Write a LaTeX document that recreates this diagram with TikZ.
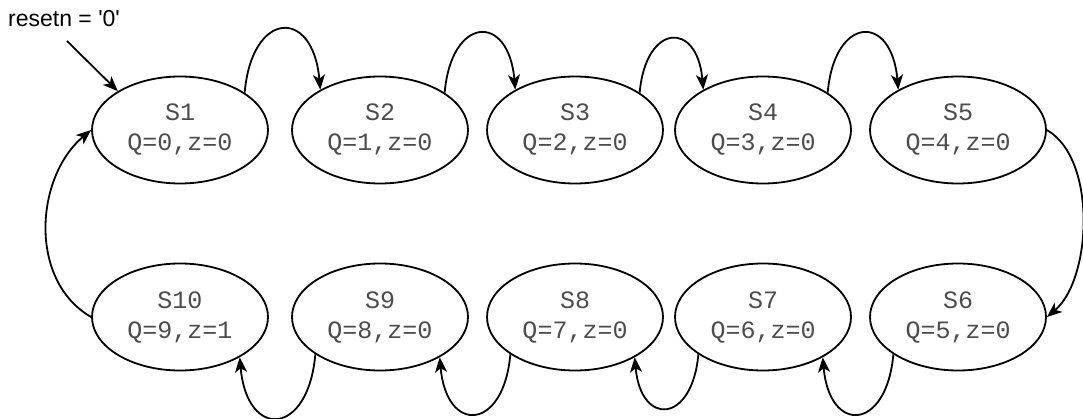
\documentclass[tikz,border=0pt]{standalone}
\usepackage{fontspec}
\newfontfamily\statefont{Liberation Mono}
\newfontfamily\labelfont{Liberation Sans}
\usetikzlibrary{arrows.meta,shapes.geometric}
\begin{document}
\begin{tikzpicture}[x=1pt,y=1pt,
	fsm/.style={draw,ellipse,line width=1.8pt,minimum width=176pt,minimum height=107pt,
		inner sep=0pt,align=center,text=black!70,font=\statefont\fontsize{25}{30}\selectfont},
	arr/.style={line width=1.8pt,-{Stealth[length=15pt,width=12pt,inset=4pt]}}]
	\useasboundingbox (0,0) rectangle (1083,418);
	% states, top row left to right, bottom row right to left
	\foreach \n/\x/\y/\q/\z in {1/180/288/0/0,2/380/288/1/0,3/575/288/2/0,4/763/288/3/0,5/958/288/4/0,
		6/958/101/5/0,7/763/101/6/0,8/575/101/7/0,9/380/101/8/0,10/180/101/9/1}{
		\node[fsm] (s\n) at (\x,\y) {S\n\\Q=\q,z=\z};
	}
	% reset
	\node[anchor=base west,inner sep=0pt,font=\labelfont\fontsize{23}{27}\selectfont] (rst) at (8,391) {resetn = '0'};
	\coordinate (rstfrom) at (67,377);
	\draw[arr] (rstfrom) -- (s1.148);
	% transitions
	\foreach \a/\b in {1/2,2/3,3/4,4/5}{
		\draw[arr] (s\a.30) to[out=85,in=95,looseness=2.8] (s\b.146);
	}
	\foreach \a/\b in {6/7,7/8,8/9,9/10}{
		\draw[arr] (s\a.210) to[out=-95,in=-85,looseness=2.8] (s\b.326);
	}
	\draw[arr] (s5.east) to[out=-30,in=40,looseness=0.8] (s6.east);
	\draw[arr] (s10.west) to[out=150,in=-140] (s1.west);
\end{tikzpicture}
\end{document}
